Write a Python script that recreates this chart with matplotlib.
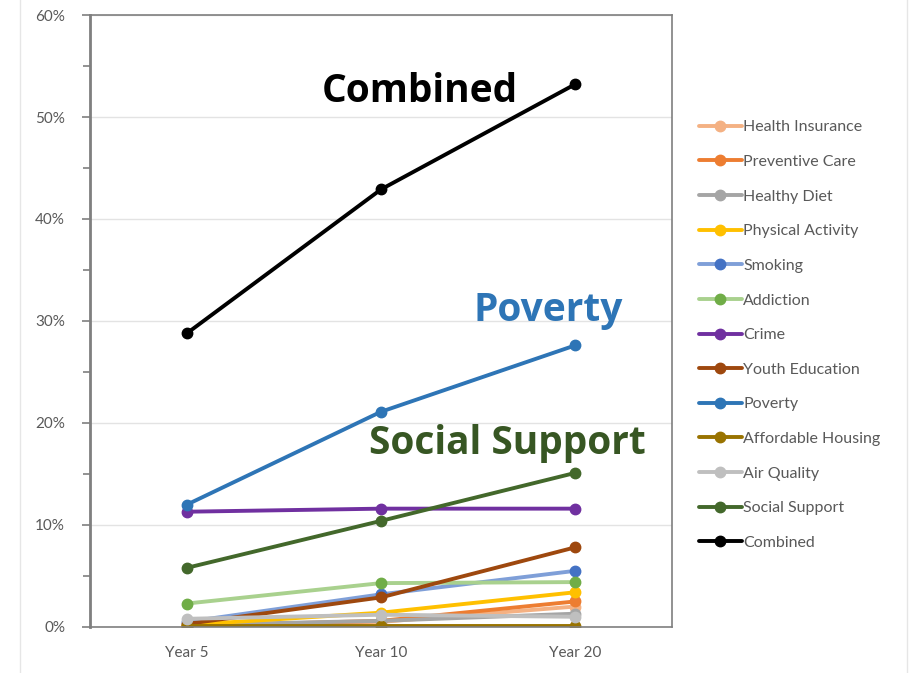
import matplotlib.pyplot as plt
from matplotlib.ticker import MultipleLocator, FuncFormatter

years = ["Year 5", "Year 10", "Year 20"]

health_insurance = [0.1, 0.5, 2.0]
preventive_care = [0.1, 0.6, 2.5]
healthy_diet = [0.2, 0.6, 1.3]
physical_activity = [0.2, 1.4, 3.4]
smoking = [0.5, 3.2, 5.5]
addiction = [2.3, 4.3, 4.4]
crime = [11.3, 11.6, 11.6]
youth_education = [0.3, 2.9, 7.8]
poverty = [12.0, 21.1, 27.6]
affordable_housing = [0.1, 0.1, 0.1]
air_quality = [0.8, 1.2, 1.0]
social_support = [5.8, 10.4, 15.1]
combined = [28.8, 42.9, 53.2]

series = [
    ("Health Insurance", health_insurance, "#F4B183", "#F4B183"),
    ("Preventive Care", preventive_care, "#ED7D31", "#ED7D31"),
    ("Healthy Diet", healthy_diet, "#A5A5A5", "#A5A5A5"),
    ("Physical Activity", physical_activity, "#FFC000", "#FFC000"),
    ("Smoking", smoking, "#7F9FD8", "#4472C4"),
    ("Addiction", addiction, "#A9D18E", "#70AD47"),
    ("Crime", crime, "#7030A0", "#7030A0"),
    ("Youth Education", youth_education, "#9E480E", "#9E480E"),
    ("Poverty", poverty, "#2E75B6", "#2E75B6"),
    ("Affordable Housing", affordable_housing, "#997300", "#997300"),
    ("Air Quality", air_quality, "#BFBFBF", "#BFBFBF"),
    ("Social Support", social_support, "#43682B", "#43682B"),
    ("Combined", combined, "#000000", "#000000"),
]

plt.rcParams['font.family'] = ['Lato', 'DejaVu Sans']

fig = plt.figure(figsize=(9.12, 6.73), dpi=100)
ax = fig.add_axes([0.0987, 0.0684, 0.6381, 0.9093])

x = range(len(years))
for name, vals, lc, mc in series:
    ax.plot(x, vals, color=lc, lw=2.8, marker='o', ms=7.5,
            mfc=mc, mec=mc, label=name, solid_capstyle='round')

ax.set_xlim(-0.5, 2.5)
ax.set_ylim(0, 60)
ax.set_xticks(list(x))
ax.set_xticklabels(years)
ax.yaxis.set_major_locator(MultipleLocator(10))
ax.yaxis.set_minor_locator(MultipleLocator(5))
ax.yaxis.set_major_formatter(FuncFormatter(lambda v, p: f"{v:.0f}%"))
ax.grid(axis='y', color='#E3E3E3', lw=1)
ax.set_axisbelow(True)

for s in ax.spines.values():
    s.set_color('#7F7F7F')
    s.set_linewidth(1.2)
ax.spines['left'].set_linewidth(2)
ax.tick_params(axis='y', which='both', direction='out', length=6, width=1.2,
               color='#7F7F7F', labelsize=11, labelcolor='#595959', pad=12)
ax.tick_params(axis='y', which='minor', length=5)
ax.tick_params(axis='x', length=0, labelsize=11, labelcolor='#595959', pad=14)

big = dict(fontsize=28, fontweight='bold', ha='center', va='center',
           family=['Open Sans', 'DejaVu Sans'])
ax.text(1.2, 52.5, "Combined", color='black', **big)
ax.text(1.86, 31.0, "Poverty", color='#2E75B6', **big)
ax.text(1.65, 18.0, "Social Support", color='#375623', **big)

leg = ax.legend(loc='center left', bbox_to_anchor=(1.035, 0.477), frameon=False,
                fontsize=11.5, labelspacing=1.28, handlelength=2.7,
                handletextpad=0.1, borderaxespad=0)
for t in leg.get_texts():
    t.set_color('#595959')

fig.add_artist(plt.Line2D([0.022, 0.022], [0, 1], color='#E6E6E6', lw=1))
fig.add_artist(plt.Line2D([0.995, 0.995], [0, 1], color='#E6E6E6', lw=1))

fig.savefig("out.png", dpi=100)
